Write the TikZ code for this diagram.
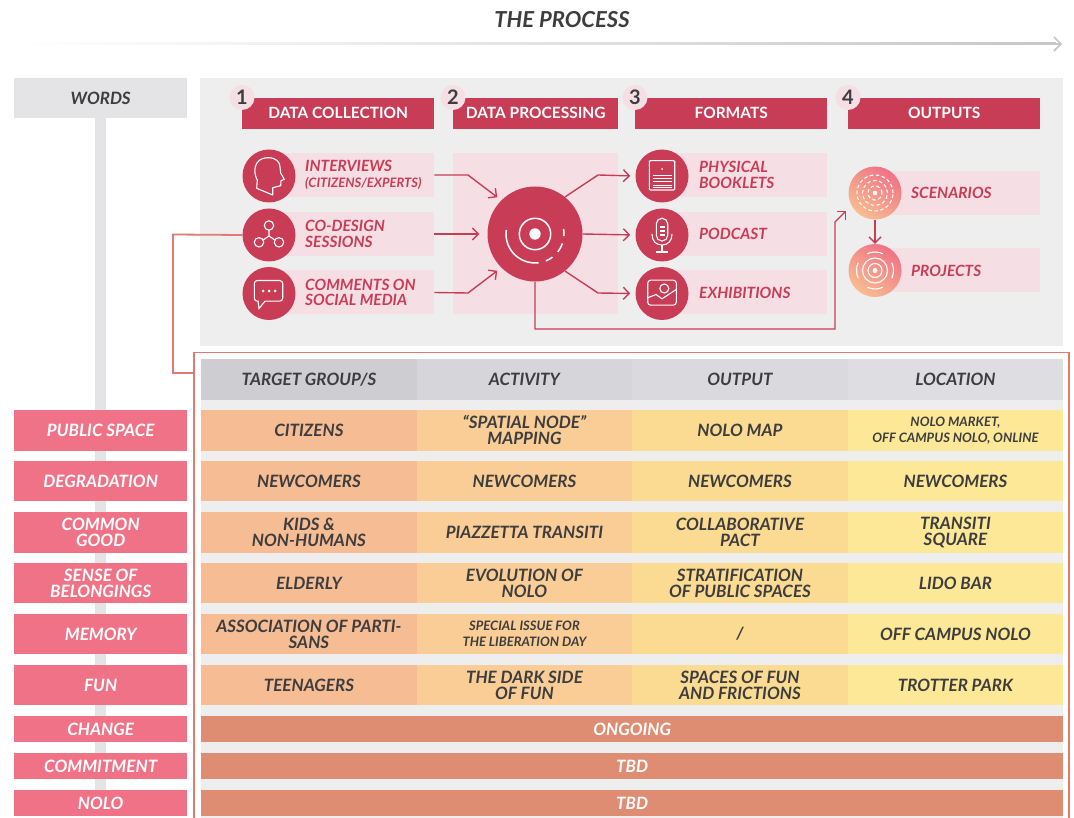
\documentclass[tikz,border=0pt]{standalone}
\usepackage{fontspec}
\setmainfont{Lato}
\usetikzlibrary{arrows.meta, positioning}
\definecolor{panelgrey}{HTML}{EEEEEE}
\definecolor{wordsgrey}{HTML}{E4E4E6}
\definecolor{crimson}{HTML}{C93C55}
\definecolor{palepink}{HTML}{F5DFE5}
\definecolor{wordpink}{HTML}{F07286}
\definecolor{inkgrey}{HTML}{3D3D3F}
\definecolor{framered}{HTML}{E07B72}
\definecolor{peach}{HTML}{F8BD90}
\definecolor{colA}{HTML}{F6BC93}
\definecolor{colB}{HTML}{F9CD95}
\definecolor{colC}{HTML}{FBDB92}
\definecolor{colD}{HTML}{FDE897}
\definecolor{headA}{HTML}{CDCDD2}
\definecolor{headB}{HTML}{D6D5DA}
\definecolor{headC}{HTML}{DAD9DE}
\definecolor{headD}{HTML}{DEDDE2}
\definecolor{wideorange}{HTML}{DE8D72}
\newcommand{\bigtxt}{\fontsize{17}{16}\selectfont}
\newcommand{\labtxt}{\fontsize{15.5}{15.5}\selectfont}
\newcommand{\smalltxt}{\fontsize{13}{16}\selectfont}

\begin{document}
\begin{tikzpicture}[
  x=1pt, y=-1pt,
  plainbox/.style={rectangle, inner sep=0pt, anchor=north west, align=center},
  wordbox/.style={plainbox, fill=wordpink, text=white, minimum width=173pt, font=\bigtxt\bfseries\itshape},
  cellbox/.style={plainbox, minimum width=215.5pt, minimum height=40.5pt, text=inkgrey, font=\bigtxt\bfseries\itshape},
  widebox/.style={plainbox, fill=wideorange, text=white, minimum width=862pt, minimum height=26pt, font=\bigtxt\bfseries\itshape},
  stephead/.style={plainbox, fill=crimson, text=white, minimum height=31pt, font=\fontsize{15.5}{16}\selectfont\bfseries},
  stepnum/.style={circle, fill=palepink, text=inkgrey, inner sep=0pt, minimum size=25pt, font=\fontsize{20}{20}\selectfont\bfseries},
  labelbox/.style={rectangle, inner sep=0pt, anchor=west, fill=palepink, minimum height=44pt},
  labeltxt/.style={inner sep=0pt, anchor=west, align=left, text=crimson, font=\labtxt\bfseries\itshape},
  iconcirc/.style={circle, fill=crimson, inner sep=0pt, minimum size=53pt},
  glowcirc/.style={circle, inner sep=0pt, minimum size=53pt, top color=wordpink, bottom color=peach, shading angle=-35},
  link/.style={crimson, line width=1.4pt, -{Straight Barb[length=6pt,width=12pt]}},
  icon/.style={white, line width=1.1pt},
]
  \useasboundingbox (0,0) rectangle (1074,818);
  \fill[white] (0,0) rectangle (1074,818);

  % title and process arrow
  \node[text=inkgrey, font=\fontsize{22}{22}\selectfont\bfseries\itshape] (title) at (562,20) {THE PROCESS};
  \coordinate (barstart) at (15,44);
  \coordinate (barend) at (1062,44);
  \shade[left color=white, right color=black!22] (15,43) rectangle (1056,45);
  \draw[black!22, line width=1.6pt, -{Straight Barb[length=7pt,width=14pt]}] (1050,44) -- (barend);

  % backgrounds
  \fill[panelgrey] (200,78) rectangle (1063,346);
  \fill[panelgrey] (201,359) rectangle (1063,818);
  \fill[wordsgrey] (95,118) rectangle (106,790);
  \node[plainbox, fill=wordsgrey, text=inkgrey, minimum width=173pt, minimum height=40pt, font=\bigtxt\bfseries\itshape] (words) at (14,78) {WORDS};

  % step headers
  \foreach \nm/\xpos/\wid/\num/\txt in {collect/242/192/1/DATA COLLECTION, process/453/165/2/DATA PROCESSING, formats/635/192/3/FORMATS, outputs/848/192/4/OUTPUTS} {
    \node[stephead, minimum width=\wid pt] (\nm) at (\xpos,97.5) {\txt};
    \node[stepnum] (\nm num) at (\nm.north west) {\num};
  }

  % pink rows behind the icons
  \node[labelbox, minimum width=165pt, minimum height=161pt] (coreback) at (453,233.5) {};
  \foreach \nm/\yc/\txt in {interviews/175/{INTERVIEWS\\{\fontsize{13}{13}\selectfont(CITIZENS/EXPERTS)}}, codesign/234/{CO-DESIGN\\SESSIONS}, comments/292.5/{COMMENTS ON\\SOCIAL MEDIA}} {
    \node[labelbox, minimum width=165pt] (\nm box) at (269,\yc) {};
    \node[iconcirc] (\nm) at (269,\yc+1) {};
    \node[labeltxt, right=36pt of \nm box.west] (\nm txt) {\txt};
  }
  \foreach \nm/\yc/\txt in {booklets/175/{PHYSICAL\\BOOKLETS}, podcast/234/PODCAST, exhibitions/292.5/EXHIBITIONS} {
    \node[labelbox, minimum width=165pt] (\nm box) at (662,\yc) {};
    \node[iconcirc] (\nm) at (662,\yc+1) {};
    \node[labeltxt, right=37pt of \nm box.west] (\nm txt) {\txt};
  }
  \foreach \nm/\yc/\txt in {scenarios/193/SCENARIOS, projects/270.5/PROJECTS} {
    \node[labelbox, minimum width=165pt] (\nm box) at (875,\yc) {};
    \node[glowcirc] (\nm) at (875,\yc) {};
    \node[labeltxt, right=36pt of \nm box.west] (\nm txt) {\txt};
  }
  \node[iconcirc, minimum size=95pt] (core) at (535,234) {};

  % connectors
  \draw[link, shorten >=5pt] (interviewsbox.east) -- (468,175) -- (core.135);
  \draw[link, shorten >=8pt] (codesignbox.east) -- (core.west);
  \draw[link, shorten >=5pt] (commentsbox.east) -- (468,293) -- (core.225);
  \draw[link, shorten >=5pt] (core.51) -- (598,175) -- (booklets.west);
  \draw[link, shorten >=5pt] (core.east) -- (podcast.west);
  \draw[link, shorten >=5pt] (core.-51) -- (598,293) -- (exhibitions.west);
  \draw[link] (core.south) -- (535,329) -- (835,329) -- (835,222) -- (846,211);
  \draw[link] (scenarios.south) -- (projects.north);

  % link down to the table
  \coordinate (framejoin) at (194,373);
  \draw[framered, line width=1.8pt] (codesign.west) -- (173,234.5) -- (173,373) -- (framejoin);
  \draw[framered, line width=1.8pt] (194,818) -- (194,352.5) -- (1069,352.5) -- (1069,818);

  % icons
  \begin{scope}[shift={(interviews.center)}, y=1pt, icon]
    \draw[line join=round] (-12.3,-12.3) -- (-11.7,-4) .. controls (-16,3) and (-16,18.3) .. (-0.7,18.3) .. controls (7,18.3) and (11,14) .. (11,9) -- (11.7,3) -- (15.3,-3.3) -- (12,-4.7) -- (11.7,-9.7) -- (3.7,-11.7) -- (3.7,-19) -- cycle;
  \end{scope}
  \begin{scope}[shift={(codesign.center)}, y=1pt, icon]
    \draw (0,9.5) circle[radius=4.7] (-10,-7.3) circle[radius=4.7] (10,-7.3) circle[radius=4.7];
    \draw (0,4.8) -- (0,-1) -- (-5.8,-5) (0,-1) -- (5.8,-5);
  \end{scope}
  \begin{scope}[shift={(comments.center)}, y=1pt, icon]
    \draw[rounded corners=3pt] (-14.7,-7.7) rectangle (13.7,13);
    \fill[crimson] (-10,-6) rectangle (-4,-9);
    \draw (-11,-7.7) -- (-10,-15) -- (-4,-7.7);
    \fill (-6,2.5) circle[radius=1.5] (0,2.5) circle[radius=1.5] (6,2.5) circle[radius=1.5];
  \end{scope}
  \begin{scope}[shift={(booklets.center)}, y=1pt, icon]
    \draw[rounded corners=1pt] (-12.7,-14) rectangle (12.7,15.3);
    \fill (0,7) circle[radius=1];
    \foreach \yl in {1,-2.3,-5.7,-9,-11.7} {\draw[line width=0.9pt] (-9.5,\yl) -- (9.5,\yl);}
  \end{scope}
  \begin{scope}[shift={(podcast.center)}, y=1pt, icon]
    \draw[rounded corners=5.5pt] (-5.7,-6) rectangle (5.7,16.7);
    \foreach \yl in {8,4,0} {\draw (-2.5,\yl) -- (2.5,\yl);}
    \draw (-10,1) .. controls (-10,-6) and (-6,-10) .. (0,-10) .. controls (6,-10) and (10,-6) .. (10,1);
    \draw (0,-10) -- (0,-17) (-6,-17) -- (6,-17);
  \end{scope}
  \begin{scope}[shift={(exhibitions.center)}, y=1pt, icon]
    \draw[rounded corners=3pt] (-14.3,-11.7) rectangle (14.3,13.3);
    \draw[fill=crimson] (2.3,5) circle[radius=4.5];
    \draw (-14.3,-4.3) -- (-6,-1) -- (0,-5.3) -- (14.3,4);
  \end{scope}
  \begin{scope}[shift={(core.center)}, y=1pt, icon, line width=1.5pt]
    \fill (0,0) circle[radius=5.7];
    \draw (0,0) circle[radius=15.7];
    \draw (172:29) arc[start angle=172, end angle=277, radius=29];
    \draw (292:29) arc[start angle=292, end angle=307, radius=29];
    \draw (322:29) arc[start angle=322, end angle=341, radius=29];
    \draw (356:29) arc[start angle=356, end angle=370, radius=29];
  \end{scope}
  \begin{scope}[shift={(scenarios.center)}, y=1pt, icon]
    \fill (0,0) circle[radius=2.3];
    \foreach \rad in {7,12.5,18} {\draw[dash pattern=on 3.5pt off 2.5pt] (0,0) circle[radius=\rad];}
  \end{scope}
  \begin{scope}[shift={(projects.center)}, y=1pt, icon]
    \fill (0,0) circle[radius=2.5];
    \draw (0,0) circle[radius=7] (0,0) circle[radius=12.5];
    \foreach \ang in {0,90,180,270} {\draw (\ang-25:18.5) arc[start angle=\ang-25, end angle=\ang+25, radius=18.5];}
  \end{scope}

  % table header
  \foreach \nm/\xpos/\tone/\txt in {target/201/headA/{TARGET GROUP/S}, activity/416.5/headB/ACTIVITY, output/632/headC/OUTPUT, location/847.5/headD/LOCATION} {
    \node[cellbox, fill=\tone] (\nm) at (\xpos,359) {\txt};
  }

  % table rows
  \foreach \rw/\ytop/\word/\cA/\cB/\cC/\cD in {
    a/410/{PUBLIC SPACE}/CITIZENS/{``SPATIAL NODE''\\MAPPING}/{NOLO MAP}/{\smalltxt NOLO MARKET,\\\smalltxt OFF CAMPUS NOLO, ONLINE},
    b/460.5/DEGRADATION/NEWCOMERS/NEWCOMERS/NEWCOMERS/NEWCOMERS,
    c/512/{COMMON\\GOOD}/{KIDS \&\\NON-HUMANS}/{PIAZZETTA TRANSITI}/{COLLABORATIVE\\PACT}/{TRANSITI\\SQUARE},
    d/562.5/{SENSE OF\\BELONGINGS}/ELDERLY/{EVOLUTION OF\\NOLO}/{STRATIFICATION\\OF PUBLIC SPACES}/{LIDO BAR},
    e/613.5/MEMORY/{ASSOCIATION OF PARTI-\\SANS}/{\smalltxt SPECIAL ISSUE FOR\\\smalltxt THE LIBERATION DAY}/{/}/{OFF CAMPUS NOLO},
    f/664.5/FUN/TEENAGERS/{THE DARK SIDE\\OF FUN}/{SPACES OF FUN\\AND FRICTIONS}/{TROTTER PARK}} {
    \node[wordbox, minimum height=40.5pt] (word\rw) at (14,\ytop) {\word};
    \node[cellbox, fill=colA] (\rw A) at (201,\ytop) {\cA};
    \node[cellbox, fill=colB] (\rw B) at (416.5,\ytop) {\cB};
    \node[cellbox, fill=colC] (\rw C) at (632,\ytop) {\cC};
    \node[cellbox, fill=colD] (\rw D) at (847.5,\ytop) {\cD};
  }

  % wide rows
  \foreach \rw/\ytop/\word/\txt in {g/716/CHANGE/ONGOING, h/753/COMMITMENT/TBD, i/790/NOLO/TBD} {
    \node[wordbox, minimum height=26pt] (word\rw) at (14,\ytop) {\word};
    \node[widebox] (\rw wide) at (201,\ytop) {\txt};
  }
\end{tikzpicture}
\end{document}
